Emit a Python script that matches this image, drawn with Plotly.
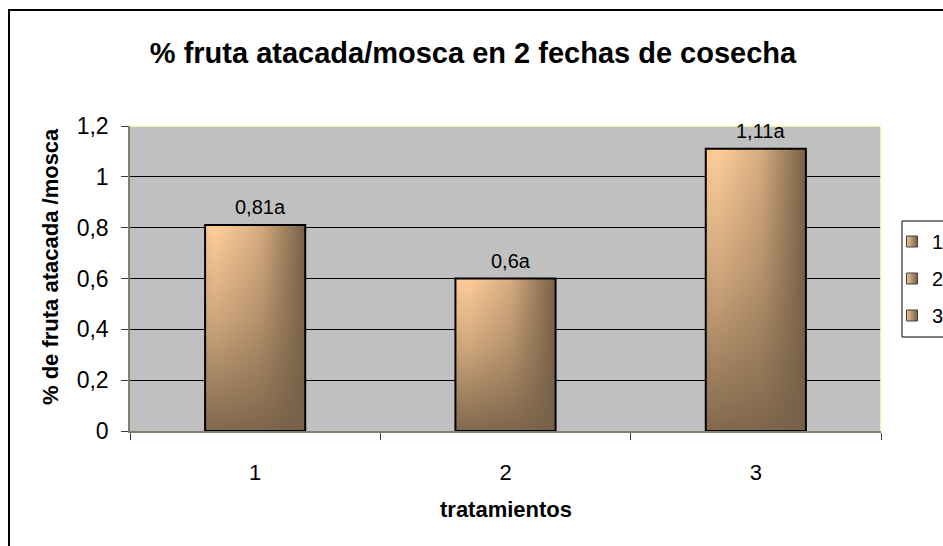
import plotly.graph_objects as go

# ---- data ----
categories = ["1", "2", "3"]
values = [0.81, 0.6, 1.11]
letters = ["a", "a", "a"]
legend_names = ["1", "2", "3"]
y_ticks = [0, 0.2, 0.4, 0.6, 0.8, 1.0, 1.2]

title_text = "% fruta atacada/mosca en 2 fechas de cosecha"
x_title = "tratamientos"
y_title = "% de fruta atacada /mosca"

FONT = "Liberation Sans, Arial, sans-serif"
half_w = 0.2

fig = go.Figure()

light = "rgb(255,205,153)"
dark = "rgb(118,96,71)"

for i, (cat, v) in enumerate(zip(categories, values)):
    xc = i + 1
    xs = [xc - half_w, xc - half_w, xc + half_w, xc + half_w, xc - half_w]
    ys = [0, v, v, 0, 0]
    fig.add_trace(go.Scatter(
        x=xs, y=ys, mode="lines", fill="toself", line=dict(width=0),
        fillgradient=dict(type="horizontal",
                          colorscale=[[0, "rgb(250,200,150)"], [0.12, light],
                                      [0.55, "rgb(215,172,128)"], [1, dark]]),
        showlegend=False, hoverinfo="skip"))
    fig.add_trace(go.Scatter(
        x=xs, y=ys, mode="lines", fill="toself",
        line=dict(color="black", width=2),
        fillgradient=dict(type="vertical",
                          colorscale=[[0, "rgba(118,96,71,0.92)"], [0.55, "rgba(118,96,71,0.35)"],
                                      [1, "rgba(118,96,71,0)"]]),
        showlegend=False, hoverinfo="skip"))

for i, (v, l) in enumerate(zip(values, letters)):
    fig.add_annotation(x=i + 1, y=v, text=f"{v:g}".replace(".", ",") + l,
                       showarrow=False, yanchor="middle", yshift=18, xshift=5,
                       font=dict(family=FONT, size=20, color="black"))

for n in legend_names:
    fig.add_trace(go.Scatter(
        x=[None], y=[None], mode="markers", name=n, legendgroup=n,
        marker=dict(symbol="square", size=11, color="rgb(240,195,145)",
                    gradient=dict(type="horizontal", color=dark),
                    line=dict(color="#404040", width=1))))

L, R, T, B = 130, 881, 126, 431
W, H = 943, 546
pw, ph = R - L, B - T

def px_x(x):
    return (x - L) / pw

def px_y(y):
    return (B - y) / ph

shapes = [
    dict(type="line", xref="paper", yref="paper", x0=0, x1=1, y0=1, y1=1,
         line=dict(color="#FFFFC0", width=1.5)),
    dict(type="line", xref="paper", yref="paper", x0=1, x1=1, y0=0, y1=1,
         line=dict(color="#FFFFC0", width=1.5)),
    dict(type="rect", xref="paper", yref="paper", x0=px_x(9), x1=px_x(980),
         y0=px_y(600), y1=px_y(10), line=dict(color="black", width=2),
         fillcolor="rgba(0,0,0,0)", layer="below"),
    dict(type="rect", xref="paper", yref="paper", x0=px_x(902), x1=px_x(980),
         y0=px_y(337), y1=px_y(221), line=dict(color="black", width=1),
         fillcolor="rgba(0,0,0,0)"),
]

fig.add_annotation(xref="paper", yref="paper", x=px_x(50), y=px_y(267),
                   text=f"<b>{y_title}</b>", textangle=-90, showarrow=False,
                   xanchor="center", yanchor="middle",
                   font=dict(family=FONT, size=22, color="black"))
fig.add_annotation(xref="paper", yref="paper", x=px_x(506), y=px_y(510),
                   text=f"<b>{x_title}</b>", showarrow=False,
                   xanchor="center", yanchor="middle",
                   font=dict(family=FONT, size=22, color="black"))

fig.update_layout(
    width=W, height=H,
    margin=dict(l=L, r=W - R, t=T, b=H - B, autoexpand=False),
    paper_bgcolor="white", plot_bgcolor="#C0C0C0",
    separators=",.",
    font=dict(family=FONT, size=21, color="black"),
    title=dict(text=f"<b>{title_text}</b>", x=473 / W, xref="container",
               xanchor="center", y=1 - 53 / H, yref="container", yanchor="middle",
               font=dict(family=FONT, size=29, color="black")),
    showlegend=True,
    legend=dict(x=px_x(892), y=px_y(222), xanchor="left", yanchor="top",
                borderwidth=0, bgcolor="rgba(0,0,0,0)",
                font=dict(family=FONT, size=20, color="black"),
                tracegroupgap=8, itemwidth=30),
    shapes=shapes,
    xaxis=dict(range=[0.5, 3.5], tickvals=[1, 2, 3], ticktext=categories,
               ticks="outside", ticklen=21, tickcolor="rgba(0,0,0,0)",
               showgrid=False, zeroline=False,
               showline=True, linecolor="#808070", linewidth=2,
               minor=dict(tickvals=[0.5, 1.5, 2.5, 3.5], ticks="outside",
                          ticklen=7, tickcolor="#404040", showgrid=False),
               tickfont=dict(family=FONT, size=22, color="black")),
    yaxis=dict(range=[0, 1.2], tickvals=y_ticks, ticks="outside", ticklen=7,
               tickcolor="#404040", showgrid=True, gridcolor="black", gridwidth=1,
               zeroline=False, showline=True, linecolor="#808070", linewidth=1.5,
               ticklabelstandoff=8,
               tickfont=dict(family=FONT, size=23, color="black")),
)

fig.write_html("out.html")
